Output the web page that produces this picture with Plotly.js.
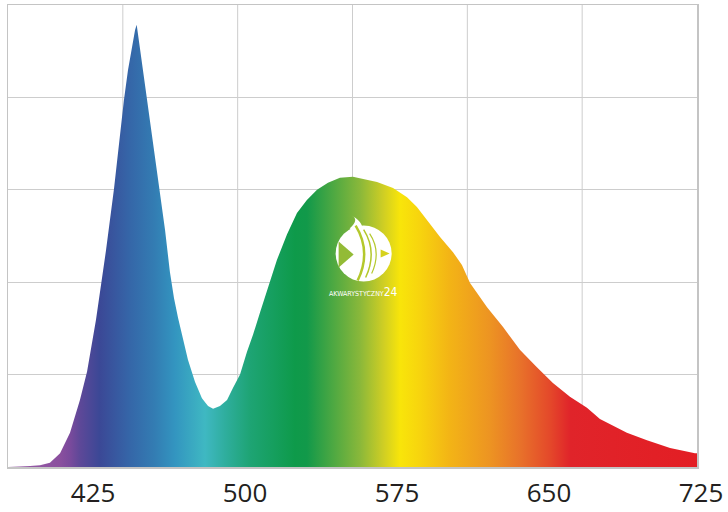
<!DOCTYPE html>
<html>
<head>
<meta charset="utf-8">
<script src="https://cdn.plot.ly/plotly-3.0.1.min.js"></script>
<style>html,body{margin:0;padding:0;background:#fff;}#chart{width:728px;height:512px;}</style>
</head>
<body>
<div id="chart"></div>
<script>
// Wavelength samples (nm)
var wavelength = [385,390.9,395.9,400.8,405.7,410.7,415.6,420.5,424.0,428.4,433.4,437.3,439.8,442.2,444.2,446.2,447.7,448.5,449.6,453.6,458.5,462.5,464.9,466.9,468.9,470.9,473.8,477.3,480.7,483.7,486.2,489.6,493.1,496.0,499.5,502.9,505.9,509.4,512.8,517.7,522.7,527.6,532.5,537.5,542.9,548.8,555.2,561.2,567.1,575.0,581.9,586.8,591.8,598.2,604.6,609.0,613.0,621.4,629.3,637.7,646.0,653.9,662.3,670.7,677.1,690.4,700.3,711.7,724.0,725];
// Relative intensity (% of full scale)
var intensity = [0,0.05,0.2,0.4,0.9,3.0,7.4,14.5,20.6,31.8,47.0,60.2,70.1,79.4,85.9,91.3,94.6,95.7,92.2,80.1,64.3,51.3,42.2,36.6,32.3,28.4,23.2,18.4,14.9,13.2,12.6,13.2,14.5,17.1,20.0,24.9,28.6,33.5,38.3,44.8,50.4,55.0,57.8,60.0,61.5,62.6,62.8,62.3,61.7,60.4,58.4,56.3,53.5,49.8,46.5,43.7,39.8,34.6,30.3,25.3,21.6,18.2,15.2,12.8,10.4,7.4,5.8,4.1,3.0,3.0];
// Tick labels
var tickValues = [425,500,575,650,725];
var tickLabels = ['425','500','575','650','725'];
// Spectrum colours along wavelength
var spectrumStops = [0,0.0756,0.09,0.1043,0.133,0.1765,0.2132,0.2424,0.2859,0.315,0.3512,0.4165,0.434,0.511,0.545,0.569,0.598,0.641,0.699,0.743,0.787,0.816,1];
var spectrumColors = ['#9a5fa8','#8a4f9e','#7a4a9c','#5e4898','#3b4896','#3566a8','#337db3','#3395c0','#3fb8c2','#2fae9e','#1ea474','#0e9a4a','#12994a','#8ab83a','#cfce24','#f8e50a','#f7d40e','#f3b416','#ed9422','#e8722a','#e4482a','#e0242a','#e31e24'];
var colorscale = spectrumStops.map(function(s,i){return [s, spectrumColors[i]];});

var xMin = 385, xMax = 725;
var verticalGridCount = 6;
var logoX = 560.5, logoY = 46.2;

var trace = {
  x: wavelength, y: intensity, type: 'scatter', mode: 'lines',
  line: {width: 0, shape: 'linear'},
  fill: 'tozeroy',
  fillgradient: {type: 'horizontal', start: xMin, stop: xMax, colorscale: colorscale},
  hoverinfo: 'skip', showlegend: false
};

var gridColor = '#cdcdcd';
var greenCut = '#b4c82c';

var shapes = [];
for (var k = 1; k < verticalGridCount; k++) {
  shapes.push({type: 'line', xref: 'x domain', yref: 'y domain', x0: k / verticalGridCount, x1: k / verticalGridCount,
    y0: 0, y1: 1, layer: 'below', line: {color: gridColor, width: 1}});
}
function logoShape(extra) {
  var s = {xref: 'x', yref: 'y', xsizemode: 'pixel', ysizemode: 'pixel', xanchor: logoX, yanchor: logoY};
  for (var key in extra) s[key] = extra[key];
  return s;
}
shapes.push(logoShape({type: 'circle', x0: -28, x1: 28, y0: -28, y1: 28, fillcolor: '#ffffff', line: {width: 0}}));
shapes.push(logoShape({type: 'path', path: 'M -14 25 Q -4 34 -12 38 Q 2 30 -2 20 Z', fillcolor: '#ffffff', line: {width: 0}}));
shapes.push(logoShape({type: 'path', path: 'M -25 12 L -25 -14 L -10 -1 Z', fillcolor: '#93bb36', line: {width: 0}}));
shapes.push(logoShape({type: 'path', path: 'M -8 28 Q 8 2 -6 -27', line: {color: greenCut, width: 2.5}}));
shapes.push(logoShape({type: 'path', path: 'M 0 24 Q 14 2 2 -24', line: {color: greenCut, width: 1.5}}));
shapes.push(logoShape({type: 'path', path: 'M 6 20 Q 18 2 8 -20', line: {color: greenCut, width: 1.2}}));
shapes.push(logoShape({type: 'path', path: 'M 17 4 L 26 0 L 17 -4 Z', fillcolor: '#d6d21c', line: {width: 0}}));

var layout = {
  width: 728, height: 512,
  margin: {l: 8, r: 31, t: 5, b: 45},
  paper_bgcolor: '#ffffff', plot_bgcolor: '#ffffff',
  showlegend: false,
  xaxis: {
    range: [xMin, xMax], showgrid: false, zeroline: false,
    tickmode: 'array', tickvals: tickValues, ticktext: tickLabels,
    ticks: '', ticklabelshift: 4, ticklabelstandoff: 2,
    tickfont: {family: 'Open Sans, sans-serif', size: 26, color: '#231f20'},
    showline: true, linecolor: '#c4c4c4', linewidth: 1.5, mirror: true
  },
  yaxis: {
    range: [0, 100], dtick: 20, tick0: 0,
    showgrid: true, gridcolor: gridColor, gridwidth: 1,
    showticklabels: false, ticks: '', zeroline: false,
    showline: true, linecolor: '#c4c4c4', linewidth: 1.5, mirror: true
  },
  shapes: shapes,
  annotations: [
    {xref: 'x', yref: 'y', x: logoX, y: logoY, yshift: -38, showarrow: false,
     text: 'AKWARYSTYCZNY<span style="font-size:12px">24</span>',
     font: {family: 'Liberation Sans Narrow, DejaVu Sans Condensed, sans-serif', size: 7, color: '#ffffff'}}
  ]
};

Plotly.newPlot('chart', [trace], layout, {staticPlot: true, displayModeBar: false});
</script>
</body>
</html>
